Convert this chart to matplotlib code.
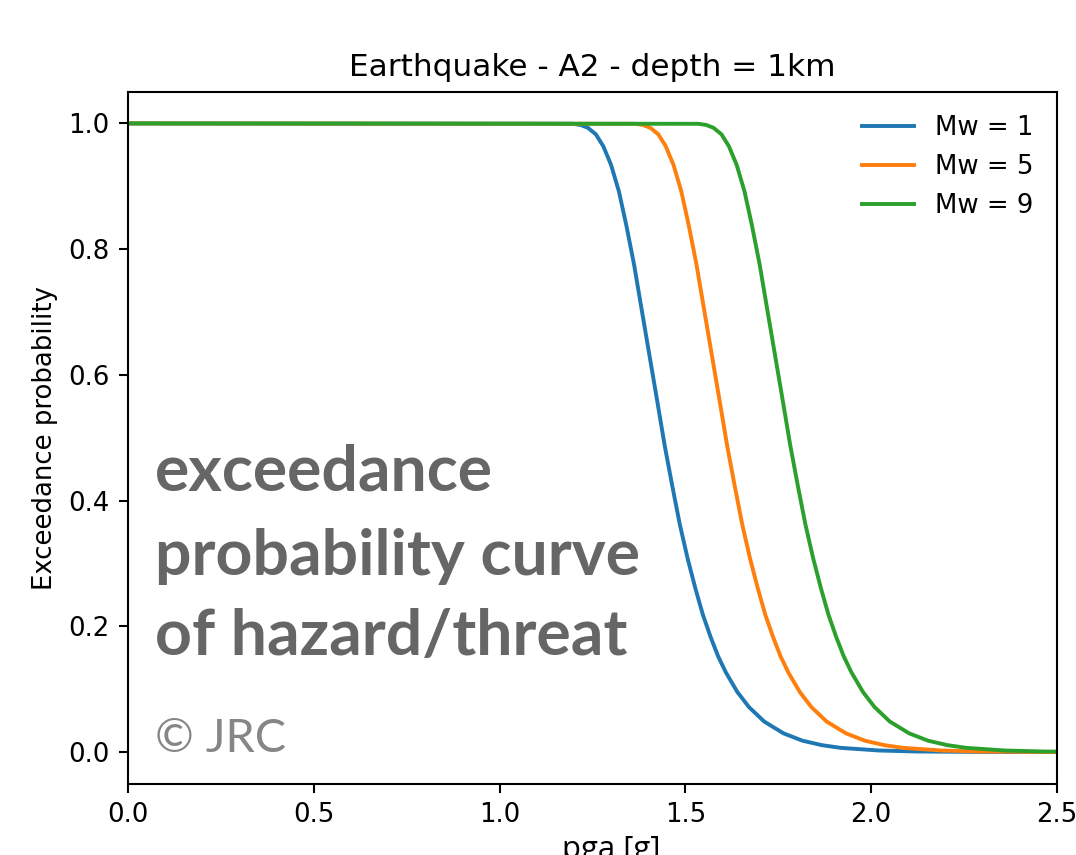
import numpy as np
import matplotlib
matplotlib.use("Agg")
import matplotlib.pyplot as plt

# exceedance probability levels and the pga [g] where each curve crosses them
# (smoothed by eye)
prob = [1.0, 0.9994, 0.9976, 0.9929, 0.9827, 0.9638, 0.934, 0.892, 0.838, 0.775,
        0.705, 0.632, 0.559, 0.4885, 0.4224, 0.362, 0.3078, 0.260, 0.2185, 0.1828,
        0.1524, 0.1266, 0.0954, 0.0716, 0.0486, 0.0298, 0.0181, 0.0110, 0.0067,
        0.0025, 0.0009, 0.0001, 0.0]

pga_mw1 = [0.0, 1.197, 1.218, 1.238, 1.259, 1.279, 1.300, 1.321, 1.341, 1.362,
           1.382, 1.403, 1.424, 1.444, 1.465, 1.485, 1.506, 1.527, 1.547, 1.568,
           1.588, 1.609, 1.640, 1.671, 1.712, 1.764, 1.815, 1.867, 1.918,
           2.021, 2.124, 2.330, 2.5]

pga_mw5 = [0.0, 1.365, 1.386, 1.406, 1.427, 1.447, 1.468, 1.489, 1.509, 1.530,
           1.550, 1.571, 1.592, 1.612, 1.633, 1.653, 1.674, 1.695, 1.715, 1.736,
           1.756, 1.777, 1.808, 1.839, 1.880, 1.932, 1.983, 2.035, 2.086,
           2.189, 2.292, 2.498, 2.6]

pga_mw9 = [0.0, 1.535, 1.556, 1.576, 1.597, 1.617, 1.638, 1.659, 1.679, 1.700,
           1.720, 1.741, 1.762, 1.782, 1.803, 1.823, 1.844, 1.865, 1.885, 1.906,
           1.926, 1.947, 1.978, 2.009, 2.050, 2.102, 2.153, 2.205, 2.256,
           2.359, 2.462, 2.668, 2.8]

labels = ["Mw = 1", "Mw = 5", "Mw = 9"]

dpi = 187
fig = plt.figure(figsize=(1076 / dpi, 855 / dpi), dpi=dpi)
ax = fig.add_axes([128 / 1076, (855 - 783.5) / 855, 929 / 1076, 691.5 / 855])

ax.plot(pga_mw1, prob, label=labels[0])
ax.plot(pga_mw5, prob, label=labels[1])
ax.plot(pga_mw9, prob, label=labels[2])

ax.set_xlim(0, 2.5)
ax.set_ylim(-0.05, 1.05)
ax.set_title("Earthquake - A2 - depth = 1km")
ax.set_ylabel("Exceedance probability")
ax.set_xlabel("pga [g]", fontfamily="Open Sans", fontsize=12)
ax.xaxis.set_label_coords(0.52, -0.0745)
ax.legend(loc="upper right", frameon=False)

# overlay text
for txt, yy in [("exceedance", 0.4244), ("probability curve", 0.3015),
                ("of hazard/threat", 0.186)]:
    ax.text(0.029, yy, txt, transform=ax.transAxes, fontfamily="Lato",
            fontweight="bold", fontsize=24.8, color="#666666", va="baseline")
ax.text(0.029, 0.0456, "© JRC", transform=ax.transAxes, fontfamily="Lato",
        fontsize=18, color="#868686", va="baseline")

fig.savefig("out.png", dpi=dpi)
